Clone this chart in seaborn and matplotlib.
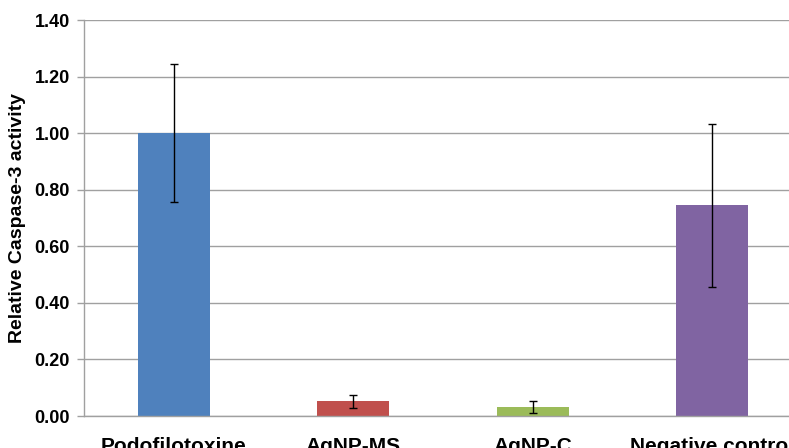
import matplotlib
matplotlib.use("Agg")
import matplotlib.pyplot as plt
import seaborn as sns
import pandas as pd

categories = ["Podofilotoxine", "AgNP-MS", "AgNP-C", "Negative control"]
values = [1.00, 0.053, 0.033, 0.745]
errors = [0.244, 0.023, 0.021, 0.288]
colors = ["#4F81BD", "#C0504D", "#9BBB59", "#8064A2"]
yticks = [0.0, 0.2, 0.4, 0.6, 0.8, 1.0, 1.2, 1.4]

sns.set_theme(style="white")
plt.rcParams["font.family"] = ["Liberation Sans", "DejaVu Sans"]
plt.rcParams["text.color"] = "black"
plt.rcParams["axes.labelcolor"] = "black"
plt.rcParams["xtick.labelcolor"] = "black"
plt.rcParams["ytick.labelcolor"] = "black"

df = pd.DataFrame({"cat": categories, "val": values})

fig = plt.figure(figsize=(7.89, 4.48), dpi=100)
ax = fig.add_axes([84 / 789, 32 / 448, 718 / 789, 396 / 448])

sns.barplot(data=df, x="cat", y="val", hue="cat", palette=colors,
            order=categories, hue_order=categories, legend=False,
            width=0.4, ax=ax, errorbar=None, zorder=2, linewidth=0,
            saturation=1)

xs = [p.get_x() + p.get_width() / 2 for p in ax.patches]
ax.errorbar(xs, values, yerr=errors, fmt="none", ecolor="black",
            elinewidth=1.0, capsize=3, capthick=1.0, zorder=3)

ax.set_xlim(-0.5, 3.5)
ax.set_ylim(0, 1.4)
ax.set_yticks(yticks)
ax.set_yticklabels([f"{t:.2f}" for t in yticks], fontsize=13, fontweight="bold",
                   color="black")
ax.tick_params(axis="y", which="both", left=True, length=5, width=1,
               color="#A0A0A0", pad=5, labelcolor="black")
ax.tick_params(axis="x", bottom=False, pad=9, labelcolor="black")
for lab in ax.get_xticklabels():
    lab.set_fontsize(15)
    lab.set_fontweight("bold")
    lab.set_color("black")
ax.set_xlabel("")
ax.set_ylabel("Relative Caspase-3 activity", fontsize=14, fontweight="bold",
              labelpad=6, color="black")

ax.grid(axis="y", color="#A0A0A0", linewidth=1.0, zorder=0)
ax.set_axisbelow(True)
for s in ["top", "right"]:
    ax.spines[s].set_visible(False)
ax.spines["left"].set_color("#A0A0A0")
ax.spines["bottom"].set_color("#A0A0A0")
ax.spines["left"].set_linewidth(1.0)
ax.spines["bottom"].set_linewidth(1.0)

fig.savefig("out.png", dpi=100)
